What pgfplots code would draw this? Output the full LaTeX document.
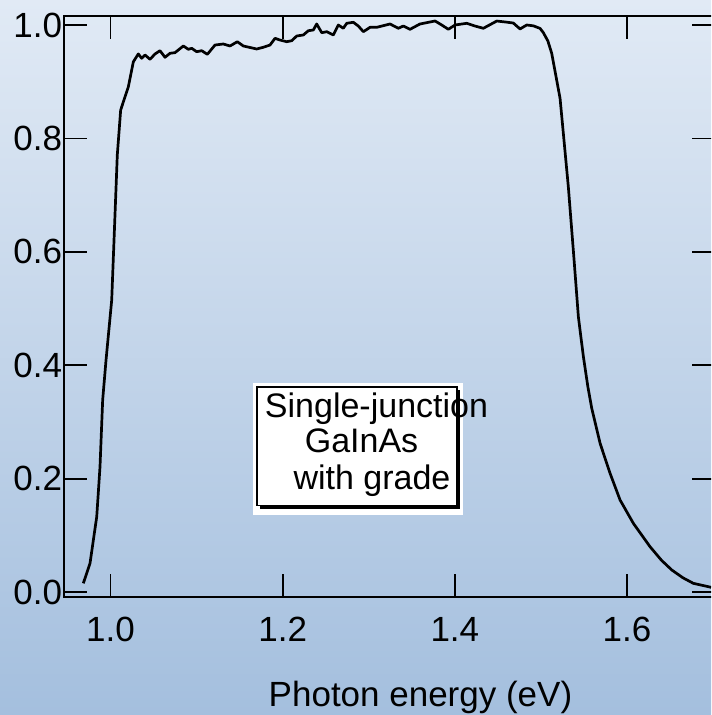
\documentclass[border=0pt]{standalone}
\usepackage{pgfplots}
\pgfplotsset{compat=1.18}
\usepackage{fontspec}
\setmainfont{Liberation Sans}
\definecolor{bgtop}{RGB}{225,234,245}
\definecolor{bgbot}{RGB}{164,191,222}
\begin{document}
\begin{tikzpicture}
\useasboundingbox (0,0) rectangle (355.5pt,357.5pt);
\clip (0,0) rectangle (355.5pt,357.5pt);
\shade[top color=bgtop, bottom color=bgbot] (0,0) rectangle (355.5pt,357.5pt);
\begin{axis}[
  scale only axis,
  width=325.75pt, height=290.5pt,
  anchor=south west, at={(31.75pt,59pt)},
  xmin=0.9454, xmax=1.7022,
  ymin=-0.0088, ymax=1.0159,
  xtick={1.0,1.2,1.4,1.6},
  ytick={0,0.2,0.4,0.6,0.8,1.0},
  tick align=inside,
  xtick pos=both, ytick pos=both,
  xticklabel pos=lower, yticklabel pos=left,
  major tick length=11.5pt,
  tick style={black, line width=0.9pt},
  axis line style={line width=1pt},
  /pgf/number format/assume math mode=true,
  /pgf/number format/.cd, fixed, fixed zerofill, precision=1, /pgfplots/.cd,
  ticklabel style={font=\fontsize{17.5}{20}\selectfont},
  xticklabel style={inner sep=0pt, anchor=north, yshift=-10pt},
  yticklabel style={inner sep=0pt, anchor=east, xshift=-0.5pt},
  clip=true,
]
\addplot[black, line width=1.35pt, line join=round] table {
0.9684 0.0153
0.9762 0.0506
0.9840 0.1328
0.9878 0.2210
0.9909 0.3386
0.9948 0.4090
1.0014 0.5150
1.0079 0.7710
1.0118 0.8500
1.0207 0.8910
1.0265 0.9350
1.0323 0.9490
1.0362 0.9413
1.0401 0.9471
1.0459 0.9395
1.0517 0.9489
1.0575 0.9547
1.0633 0.9430
1.0691 0.9501
1.0749 0.9512
1.0846 0.9630
1.0904 0.9571
1.0943 0.9589
1.1001 0.9529
1.1059 0.9547
1.1125 0.9483
1.1214 0.9647
1.1310 0.9665
1.1388 0.9630
1.1473 0.9705
1.1543 0.9630
1.1698 0.9577
1.1775 0.9607
1.1853 0.9647
1.1911 0.9765
1.1969 0.9735
1.2047 0.9705
1.2105 0.9723
1.2163 0.9806
1.2240 0.9824
1.2298 0.9899
1.2356 0.9912
1.2395 1.0018
1.2454 0.9864
1.2512 0.9882
1.2588 0.9824
1.2646 1.0000
1.2704 0.9942
1.2744 1.0030
1.2821 1.0048
1.2879 0.9982
1.2937 0.9882
1.3015 0.9959
1.3092 0.9959
1.3247 1.0018
1.3343 0.9942
1.3401 0.9982
1.3479 0.9924
1.3595 1.0018
1.3770 1.0071
1.3848 1.0000
1.3924 0.9924
1.4002 1.0000
1.4138 1.0030
1.4234 0.9982
1.4331 0.9942
1.4487 1.0070
1.4603 1.0050
1.4679 1.0035
1.4757 0.9930
1.4835 1.0000
1.4912 0.9985
1.4990 0.9940
1.5028 0.9864
1.5080 0.9720
1.5125 0.9501
1.5222 0.8707
1.5318 0.7148
1.5380 0.5950
1.5435 0.4850
1.5493 0.4150
1.5545 0.3620
1.5590 0.3240
1.5687 0.2623
1.5803 0.2093
1.5919 0.1623
1.6073 0.1212
1.6267 0.0799
1.6400 0.0560
1.6520 0.0388
1.6650 0.0250
1.6770 0.0153
1.6976 0.0083
};
\end{axis}
% annotation box
\fill[white] (126.5pt,100pt) rectangle (231.5pt,166pt);
\fill[black] (130.2pt,103pt) rectangle (229.8pt,162.6pt);
\draw[fill=white, line width=0.9pt] (128.65pt,104.75pt) rectangle (228.35pt,164.15pt);
\node[anchor=base, inner sep=0pt, font=\fontsize{17}{20}\selectfont] at (188.25pt,148.5pt) {Single-junction};
\node[anchor=base, inner sep=0pt, font=\fontsize{17}{20}\selectfont] at (180.75pt,131pt) {GaInAs};
\node[anchor=base, inner sep=0pt, font=\fontsize{17}{20}\selectfont] at (186pt,112.5pt) {with grade};
\node[anchor=base, inner sep=0pt, font=\fontsize{17.5}{20}\selectfont] at (210.25pt,4.5pt) {Photon energy (eV)};
\end{tikzpicture}
\end{document}
